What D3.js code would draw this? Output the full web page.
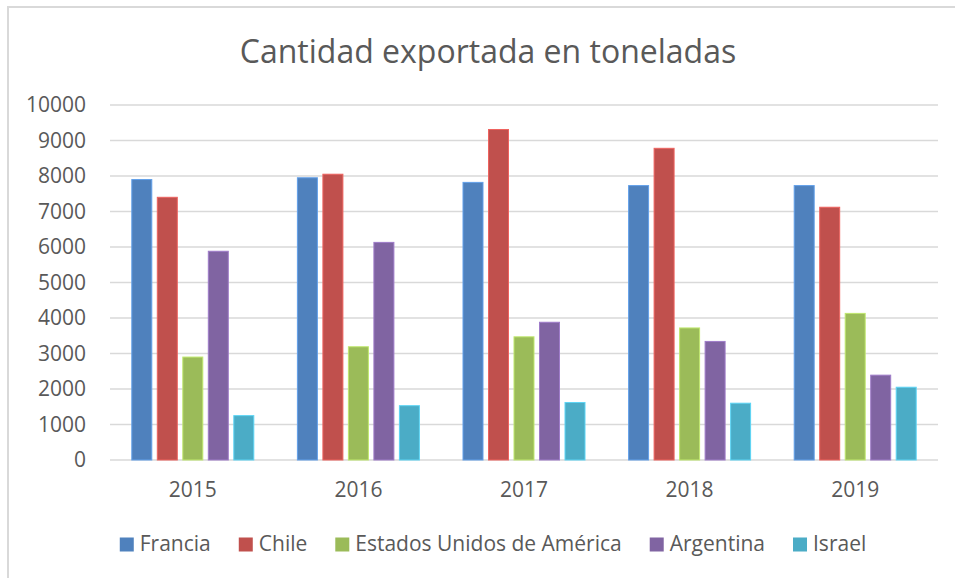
<!DOCTYPE html>
<html>
<head>
<meta charset="utf-8">
<script src="https://cdn.jsdelivr.net/npm/d3@7"></script>
<style>
  body { margin: 0; background: #fff; }
  text { font-family: "Open Sans", sans-serif; fill: #595959; }
</style>
</head>
<body>
<svg id="chart" width="955" height="578"></svg>
<script>
// data
var years = ["2015", "2016", "2017", "2018", "2019"];
var countries = ["Francia", "Chile", "Estados Unidos de América", "Argentina", "Israel"];
var francia   = [7900, 7950, 7820, 7730, 7730];
var chile     = [7400, 8050, 9310, 8780, 7120];
var eeuu      = [2900, 3190, 3470, 3720, 4130];
var argentina = [5880, 6130, 3880, 3340, 2390];
var israel    = [1250, 1530, 1620, 1600, 2050];
var yTicks = [0, 1000, 2000, 3000, 4000, 5000, 6000, 7000, 8000, 9000, 10000];

var colors = ["#4f81bd", "#c0504d", "#9bbb59", "#8064a2", "#4bacc6"];
var series = [francia, chile, eeuu, argentina, israel];

var margin = {top: 105, left: 110, right: 17, bottom: 118};
var width = 955 - margin.left - margin.right,
    height = 578 - margin.top - margin.bottom;

var svg = d3.select("#chart");

// outer chart frame (left + top edges visible)
svg.append("path")
  .attr("d", "M8,578 L8,7 L955,7")
  .attr("fill", "none")
  .attr("stroke", "#d9d9d9")
  .attr("stroke-width", 2);

svg.append("text")
  .attr("class", "title")
  .attr("x", 488)
  .attr("y", 63)
  .attr("text-anchor", "middle")
  .style("font-size", "32px")
  .text("Cantidad exportada en toneladas");

var g = svg.append("g")
  .attr("transform", "translate(" + margin.left + "," + margin.top + ")");

var x0 = d3.scaleBand().domain(years).range([0, width]).padding(0);
var groupW = 122;
var x1 = d3.scaleBand().domain(d3.range(countries.length))
  .range([(x0.bandwidth() - groupW) / 2, (x0.bandwidth() + groupW) / 2])
  .paddingInner(0.216).paddingOuter(0);
var y = d3.scaleLinear().domain([0, 10000]).range([height, 0]);

// gridlines
g.selectAll(".grid")
  .data(yTicks)
  .enter().append("line")
  .attr("class", "grid")
  .attr("x1", 0)
  .attr("x2", width)
  .attr("y1", function(d) { return y(d); })
  .attr("y2", function(d) { return y(d); })
  .attr("stroke", "#d9d9d9")
  .attr("stroke-width", 1.5);

// y axis labels
var yAxis = d3.axisLeft(y).tickValues(yTicks).tickSize(0).tickPadding(24)
  .tickFormat(d3.format("d"));
g.append("g").attr("class", "yaxis").call(yAxis)
  .call(function(s) { s.select(".domain").remove(); })
  .selectAll("text")
  .style("font-size", "21px")
  .attr("fill", "#595959");

// x axis labels
var xAxis = d3.axisBottom(x0).tickSize(0).tickPadding(22);
g.append("g").attr("class", "xaxis")
  .attr("transform", "translate(0," + height + ")")
  .call(xAxis)
  .call(function(s) { s.select(".domain").remove(); })
  .selectAll("text")
  .style("font-size", "21px")
  .attr("fill", "#595959");

// bars
var groups = g.selectAll(".year")
  .data(years)
  .enter().append("g")
  .attr("class", "year")
  .attr("transform", function(d) { return "translate(" + x0(d) + ",0)"; });

groups.selectAll("rect")
  .data(function(d, i) { return series.map(function(s, k) { return {k: k, v: s[i]}; }); })
  .enter().append("rect")
  .attr("x", function(d) { return x1(d.k); })
  .attr("y", function(d) { return y(d.v); })
  .attr("width", x1.bandwidth())
  .attr("height", function(d) { return height - y(d.v); })
  .attr("fill", function(d) { return colors[d.k]; })
  .attr("stroke", function(d) { return d3.color(colors[d.k]).brighter(0.6); })
  .attr("stroke-width", 1);

// legend
var legend = svg.append("g").attr("class", "legend");
var items = legend.selectAll(".item")
  .data(countries)
  .enter().append("g")
  .attr("class", "item");

items.append("rect")
  .attr("width", 14)
  .attr("height", 14)
  .attr("y", -13.5)
  .attr("fill", function(d, i) { return colors[i]; });

items.append("text")
  .attr("x", 20)
  .attr("y", 0)
  .style("font-size", "21px")
  .text(function(d) { return d; });

var pos = 0, gap = 28;
var offsets = [];
items.each(function() {
  offsets.push(pos);
  var w = d3.select(this).select("text").node().getComputedTextLength();
  pos += 20 + w + gap;
});
var total = pos - gap;
var startX = 493 - total / 2;
items.attr("transform", function(d, i) { return "translate(" + (startX + offsets[i]) + ",551)"; });
</script>
</body>
</html>
